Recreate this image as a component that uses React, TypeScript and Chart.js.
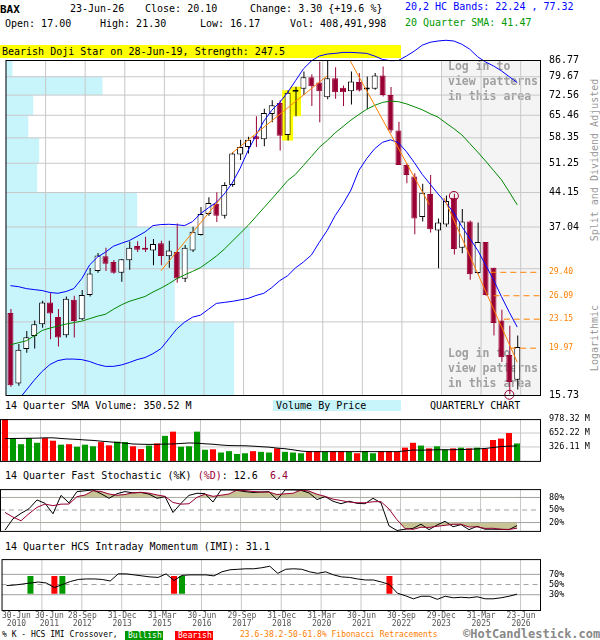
import React, { useEffect, useRef } from "react";
import { Chart, registerables } from "chart.js";

Chart.register(...registerables);

const FONT = "'DejaVu Sans Mono', 'Liberation Mono', monospace";
Chart.defaults.font.family = FONT;

// ---------------- data (quarterly, 30-Jun-2010 .. 23-Jun-2026) ----------------
const opens = [23.90,16.68,19.89,21.26,22.55,25.22,23.40,21.33,25.56,23.13,26.20,29.61,31.89,31.00,29.33,31.25,33.60,33.25,32.87,34.10,31.90,32.60,28.45,32.87,35.55,39.60,41.70,39.20,45.90,53.60,55.70,58.80,57.90,65.85,69.70,59.20,73.80,74.90,79.50,77.40,71.80,79.10,75.30,74.00,77.60,74.70,74.90,80.20,72.60,60.60,50.80,47.90,39.00,43.80,36.40,37.50,43.00,33.30,38.10,29.30,34.30,30.10,23.00,19.30,17.00];
const highs = [24.39,20.39,21.80,23.00,25.43,26.42,24.38,25.99,26.08,26.87,30.07,32.45,33.30,31.30,31.45,34.40,34.45,35.26,34.85,34.55,34.55,37.70,33.80,37.10,41.00,43.10,44.20,46.50,54.30,57.80,58.70,65.10,67.70,70.70,70.70,74.40,75.70,81.80,80.70,86.00,86.50,83.60,76.20,81.80,81.20,79.80,81.20,83.90,75.60,63.30,51.20,48.70,46.20,48.30,38.70,43.50,43.90,40.60,38.30,37.90,34.30,30.10,24.30,22.40,21.30];
const lows = [16.40,16.48,19.50,19.95,22.17,20.90,20.15,21.08,21.08,23.05,25.99,29.33,29.61,29.18,28.03,29.80,32.60,32.60,30.47,30.47,30.10,27.88,27.99,32.60,35.45,39.20,38.00,38.70,45.50,52.10,53.85,55.70,55.90,63.20,54.70,57.60,65.10,72.60,68.60,63.20,71.00,71.20,68.60,69.20,73.90,67.50,74.60,72.00,59.90,50.80,46.30,35.70,38.10,36.00,30.00,37.10,32.20,32.40,28.30,29.20,26.10,21.30,18.60,15.80,16.17];
const closes = [16.54,19.82,21.12,22.55,25.22,23.83,21.08,25.69,22.93,26.20,29.22,32.05,30.72,29.33,31.41,33.30,32.97,32.97,33.98,31.95,32.87,28.49,33.30,36.17,39.60,41.85,39.20,45.90,53.85,55.70,57.80,57.90,66.20,68.90,59.00,73.40,74.00,79.50,75.90,74.00,79.10,73.60,73.60,77.80,74.30,74.90,80.20,72.60,60.60,50.80,48.30,38.70,44.10,36.60,37.90,42.30,33.10,38.10,29.10,34.30,26.20,22.70,19.06,16.80,20.10];

// volume, millions of shares
const volumes = [990,533,391,533,424,533,473,380,391,331,380,342,440,364,451,440,342,277,359,408,587,685,331,342,685,261,272,196,228,163,179,228,212,196,293,212,196,179,228,228,212,228,228,212,179,228,179,228,228,212,310,424,359,293,342,261,293,310,293,310,282,489,522,652,408.49];
const volumeSma14 = [522,525,527,530,532,540,540,525,512,503,490,480,462,447,430,415,396,390,386,388,393,397,408,420,415,400,390,372,359,356,354,345,332,322,300,285,260,230,217,217,217,217,217,217,217,217,217,217,217,217,233,255,250,255,261,261,261,265,272,280,290,312,335,345,350.52];

const hcUpperBand = [27.46,27.33,27.06,26.92,26.79,26.52,26.42,26.65,27.06,28.45,30.53,31.78,32.58,33.58,34.09,34.56,35.31,36.12,37.31,37.50,37.56,37.46,37.31,38.07,39.64,40.85,41.99,43.83,46.32,49.94,54.66,59.03,63.55,67.16,69.91,73.51,78.09,82.93,86.34,88.53,89.43,89.74,90.19,90.19,90.00,89.74,88.53,86.99,86.47,86.55,88.53,90.78,93.56,94.98,95.60,95.94,95.60,94.03,91.70,88.20,85.90,84.19,82.10,79.66,77.32];
const hcLowerBand = [14.66,15.33,16.13,16.96,17.74,18.38,18.75,18.89,18.89,18.84,18.66,18.38,18.20,18.20,18.33,18.56,18.84,19.04,19.42,19.92,20.94,22.02,22.81,23.39,23.63,24.35,25.09,25.22,25.35,25.54,25.73,26.12,26.42,27.19,28.17,28.89,30.07,30.99,32.10,34.26,36.39,39.24,41.68,44.71,49.43,52.52,55.22,57.05,57.76,56.91,54.39,51.46,48.45,46.08,43.83,41.88,39.83,37.13,34.96,32.91,30.53,28.31,25.99,23.98,22.24];
const sma20 = [20.32,20.53,20.74,21.26,21.86,22.13,22.36,22.58,22.75,22.92,23.21,23.51,23.74,24.35,24.90,25.35,25.67,25.99,26.59,27.12,27.74,28.45,29.02,29.54,30.11,30.99,31.93,33.08,34.43,35.84,37.31,39.04,40.85,42.73,44.75,46.92,48.45,50.69,53.03,55.58,57.56,59.84,61.82,63.87,65.73,67.51,68.87,69.91,70.37,70.16,69.39,68.38,67.33,65.99,64.84,62.92,61.14,59.24,56.70,54.27,51.85,49.43,47.13,44.26,41.47];

const stochK = [2,29,42,53,74,66,41,85,67,94,96,98,89,78,89,94,91,92,88,78,82,44,66,85,90,89,69,98,98,97,94,92,93,94,74,98,98,97,91,75,82,71,65,71,66,65,78,67,12,1,4,6,16,3,14,23,10,15,3,11,4,4,3.6,3,12.6];
const stochD = [44,33,24.3,41.3,56.3,64.3,60.3,64,64.3,82,85.7,96,94.3,88.3,85.3,87,91.3,92.3,90.3,86,82.7,68,64,65,80.3,88,82.7,85.3,88.3,97.7,96.3,94.3,93,93,87,88.7,90,97.7,95.3,87.7,82.7,76,72.7,69,67.3,67.3,69.7,70,52.3,26.7,5.7,3.7,8.7,8.3,11,13.3,15.7,16,9.3,9.7,6,6.3,3.9,3.5,6.4];
const imi = [48,49,51,53,55,53,44,50,56,60,61,61,60,57,71,71,69,67,65,64,71,58,68,69,69,69,67,75,79,80,81,81,83,86,72,80,81,80,75,72,75,69,65,64,61,59,59,55,50,33,28,22,27,27,21,27,24,25,24,26,22,22,24,27,31.1];

const imiCrossIdx = [3, 6, 7, 21, 22, 48];
const imiCrossBullish = [true, false, true, false, true, false];
const imiCrossRange = [31.7, 66.7];

// price axis: volume-by-price bin edges (top first)
const priceGrid = [86.77,79.67,72.56,65.46,58.35,51.25,44.15,37.04,29.94,22.83,15.73];
const priceTickText = ["86.77","79.67","72.56","65.46","58.35","51.25","44.15","37.04","","","15.73"];
const vbpVolume = [35,490,140,115,170,160,665,1235,855,1155]; // M shares per bin, top bin first

const fibLevels = [29.40, 26.09, 23.15, 19.97];
const fibStartIdx = [60.6, 61.0, 62.3, 63.1];

const trendStartIdx = [19.0, 27.9, 42.9, 54.75];
const trendStartPrice = [29.62, 53.84, 86.47, 42.96];
const trendEndIdx = [26.6, 40.0, 52.9, 64.0];
const trendEndPrice = [42.96, 80.07, 41.53, 18.60];

const swingIdx = [56, 63];
const swingPrice = [43.4, 15.75];

const patternIdx = [35, 36];
const lockedFromIdx = 54;

const xLabelIdx = [0,4,9,14,19,24,29,34,39,44,49,54,59,64];
const xLabelText = [
  ["30-Jun","2010"],["30-Jun","2011"],["28-Sep","2012"],["31-Dec","2013"],["31-Mar","2015"],
  ["30-Jun","2016"],["29-Sep","2017"],["31-Dec","2018"],["31-Mar","2020"],["30-Jun","2021"],
  ["30-Sep","2022"],["29-Dec","2023"],["31-Mar","2025"],["23-Jun","2026"],
];

const volTicks = [326.11, 652.22, 978.32];
const stochTicks = [20, 50, 80];
const imiTicks = [30, 50, 70];

// ---------------- styling ----------------
const GRID_COLOR = "#c8c8c8";
const CRIMSON = "#990033";
const UP_GREEN = "#009900";
const DOWN_RED = "#ff0000";
const ORANGE = "#ff8000";
const BAND_BLUE = "#0000ff";
const SMA_GREEN = "#008800";
const VBP_CYAN = "#c8f4fc";
const TAN = "rgb(200,196,150)";
const REF = "#a0a0a0";
const CLEAR = "rgba(0,0,0,0)";
const X_MIN = -0.625;
const X_MAX = 66.875;
const GRID_SHIFT = 0.4375; // grid line sits just right of the dated candle

const gridPos = xLabelIdx.slice(1).map((i) => i + GRID_SHIFT);
const xLabelPos = xLabelIdx.map((i, k) => i + (k === 0 ? 1.25 : k === 1 ? 1.375 : 0.5));
const pts = (arr: number[]) => arr.map((v, i) => ({ x: i, y: v }));
const isBull = (i: number) => closes[i] >= opens[i];

// grid lines as two-point line datasets through the chart's own scales
function gridDatasets(yMin: number, yMax: number, yVals: number[]): any[] {
  const common = { type: "line", xAxisID: "x", yAxisID: "y", borderColor: GRID_COLOR, borderWidth: 1, pointRadius: 0, fill: false, order: 20 };
  const v = gridPos.map((g) => ({ ...common, data: [{ x: g, y: yMin }, { x: g, y: yMax }] }));
  const h = yVals.map((y) => ({ ...common, data: [{ x: X_MIN, y }, { x: X_MAX, y }] }));
  return [...v, ...h];
}
function refDatasets(levels: number[]): any[] {
  return levels.map((y, k) => ({
    type: "line", xAxisID: "x", yAxisID: "y", borderColor: REF, borderWidth: 1, pointRadius: 0, fill: false,
    borderDash: k === 1 ? [5, 4] : [], order: 19, data: [{ x: X_MIN, y }, { x: X_MAX, y }],
  }));
}

function hiddenXAxis(): any {
  return {
    type: "linear", min: X_MIN, max: X_MAX, offset: false, bounds: "data",
    grid: { display: false, drawTicks: false },
    border: { display: false },
    ticks: { display: false },
    afterFit: (s: any) => { s.height = 0; },
  };
}

function rightAxis(vals: number[], label: (v: number) => string, size: number, extra: any = {}): any {
  return {
    position: "right", bounds: "data",
    border: { display: false },
    grid: { display: false, drawTicks: false },
    ticks: { autoSkip: false, padding: 9, color: "#000", font: { family: FONT, size }, callback: (v: any) => label(v) },
    afterBuildTicks: (s: any) => { s.ticks = vals.map((v) => ({ value: v })); },
    afterFit: (s: any) => { s.width = 60; },
    ...extra,
  };
}

const framePlugin = {
  id: "frame",
  afterDraw(chart: any) {
    const { ctx, chartArea: a } = chart;
    ctx.save();
    ctx.strokeStyle = "#000";
    ctx.lineWidth = 1;
    ctx.strokeRect(a.left + 0.5, a.top + 0.5, a.right - a.left, a.bottom - a.top);
    ctx.restore();
  },
};

const mainDecor = {
  id: "mainDecor",
  beforeDraw(chart: any) {
    const { ctx, chartArea: a, scales } = chart;
    const { x, y, xv } = scales;
    ctx.save();
    ctx.fillStyle = VBP_CYAN;
    vbpVolume.forEach((v, k) => {
      const top = y.getPixelForValue(priceGrid[k]);
      const bottom = y.getPixelForValue(priceGrid[k + 1]);
      ctx.fillRect(a.left, top, xv.getPixelForValue(v) - a.left, bottom - top);
    });
    const gx = Math.floor(x.getPixelForValue(lockedFromIdx + GRID_SHIFT));
    ctx.fillStyle = "#f4f4f4";
    ctx.fillRect(gx, a.top, a.right - gx, a.bottom - a.top);
    ctx.strokeStyle = "#999999";
    ctx.lineWidth = 1;
    ctx.beginPath();
    ctx.moveTo(gx + 0.5, a.top);
    ctx.lineTo(gx + 0.5, a.bottom);
    ctx.stroke();
    // watermark
    ctx.fillStyle = "#a0a0a0";
    ctx.font = `bold 11.5px ${FONT}`;
    ctx.textBaseline = "middle";
    const lines = ["Log in to", "view patterns", "in this area"];
    lines.forEach((s, k) => {
      ctx.fillText(s, gx + 7, a.top + 7.5 + 15 * k);
      ctx.fillText(s, gx + 7, a.bottom - 40.5 + 15 * k);
    });
    ctx.restore();
  },
};

function mainConfig(): any {
  const ids = opens.map((_, i) => i);
  const bull = ids.filter(isBull);
  const bear = ids.filter((i) => !isBull(i));
  const bar = { type: "bar", grouped: false, inflateAmount: 0, yAxisID: "y" };
  const line = { type: "line", pointRadius: 0, borderWidth: 1, fill: false, tension: 0, xAxisID: "x", yAxisID: "y" };
  const nGrid = priceGrid.length;
  const datasets: any[] = [
    ...gridDatasets(priceGrid[nGrid - 1], priceGrid[0], priceGrid.slice(1, nGrid - 1)),
    // pattern highlight behind the Bearish Doji Star candles
    { ...bar, xAxisID: "x", data: patternIdx.map((i) => ({ x: i, y: [lows[i], highs[i]] })), backgroundColor: "#ffff00", barThickness: 11, minBarLength: 2, order: 15 },
    { ...bar, xAxisID: "xw", data: bull.map((i) => ({ x: i, y: [lows[i], highs[i]] })), backgroundColor: "#000", barThickness: 1, order: 9 },
    { ...bar, xAxisID: "xw", data: bear.map((i) => ({ x: i, y: [lows[i], highs[i]] })), backgroundColor: CRIMSON, barThickness: 1, order: 9 },
    { ...bar, xAxisID: "x", data: bull.map((i) => ({ x: i, y: [opens[i], closes[i]] })), backgroundColor: "#fff", borderColor: "#000", borderWidth: 1, borderSkipped: false, barThickness: 6, minBarLength: 2, order: 8 },
    { ...bar, xAxisID: "x", data: bear.map((i) => ({ x: i, y: [opens[i], closes[i]] })), backgroundColor: CRIMSON, borderColor: CRIMSON, borderWidth: 1, borderSkipped: false, barThickness: 6, minBarLength: 2, order: 8 },
    { ...line, data: pts(sma20), borderColor: SMA_GREEN, order: 4 },
    { ...line, data: pts(hcUpperBand), borderColor: BAND_BLUE, clip: false, order: 3 },
    { ...line, data: pts(hcLowerBand), borderColor: BAND_BLUE, order: 3 },
  ];
  trendStartIdx.forEach((s, k) => {
    datasets.push({ ...line, data: [{ x: s, y: trendStartPrice[k] }, { x: trendEndIdx[k], y: trendEndPrice[k] }], borderColor: ORANGE, order: 2 });
  });
  fibLevels.forEach((v, k) => {
    datasets.push({ ...line, data: [{ x: fibStartIdx[k], y: v }, { x: X_MAX, y: v }], borderColor: ORANGE, borderDash: [6, 4], order: 2 });
  });
  datasets.push({
    type: "line", xAxisID: "x", yAxisID: "y", showLine: false,
    data: swingIdx.map((i, k) => ({ x: i, y: swingPrice[k] })),
    pointRadius: 4.5, pointStyle: "circle", pointBorderColor: CRIMSON, pointBackgroundColor: CLEAR, pointBorderWidth: 1,
    clip: false, order: 1,
  });
  return {
    type: "line",
    data: { datasets },
    options: {
      animation: false, responsive: false, maintainAspectRatio: false, events: [],
      layout: { padding: { top: 60, bottom: 10, left: 0, right: 0 } },
      plugins: { legend: { display: false }, tooltip: { enabled: false } },
      scales: {
        x: hiddenXAxis(),
        xw: { type: "linear", display: false, min: X_MIN - 0.0625, max: X_MAX - 0.0625, offset: false, bounds: "data" },
        xv: { type: "linear", display: false, min: 0, max: 2700, offset: false, bounds: "data" },
        y: {
          type: "logarithmic", position: "right", min: priceGrid[nGrid - 1], max: priceGrid[0], bounds: "data",
          border: { display: false },
          grid: { display: false, drawTicks: false },
          ticks: {
            autoSkip: false, padding: 9,
            callback: (v: any, i: number) => (i < nGrid ? priceTickText[i] : fibLevels[i - nGrid].toFixed(2)),
            color: (c: any) => (c.index < nGrid ? "#000" : ORANGE),
            font: (c: any) => ({ family: FONT, size: c.index < nGrid ? 10 : 8 }),
          },
          afterBuildTicks: (s: any) => { s.ticks = [...priceGrid, ...fibLevels].map((v) => ({ value: v })); },
          afterFit: (s: any) => { s.width = 60; },
        },
      },
    },
    plugins: [mainDecor, framePlugin],
  };
}

function volumeConfig(): any {
  const top = volTicks[volTicks.length - 1];
  return {
    type: "line",
    data: {
      datasets: [
        ...gridDatasets(0, top, volTicks.slice(0, 2)),
        { type: "bar", xAxisID: "x", yAxisID: "y", data: pts(volumes), backgroundColor: volumes.map((_, i) => (isBull(i) ? UP_GREEN : DOWN_RED)), barThickness: 6, grouped: false, inflateAmount: 0, order: 2 },
        { type: "line", xAxisID: "x", yAxisID: "y", data: pts(volumeSma14), borderColor: "#000", borderWidth: 1, pointRadius: 0, order: 1 },
      ],
    },
    options: {
      animation: false, responsive: false, maintainAspectRatio: false, events: [],
      layout: { padding: { top: 5, bottom: 4, left: 0, right: 0 } },
      plugins: { legend: { display: false }, tooltip: { enabled: false } },
      scales: {
        x: hiddenXAxis(),
        y: rightAxis(volTicks, (v) => `${v.toFixed(2)} M`, 8.5, { type: "linear", min: 0, max: top }),
      },
    },
    plugins: [framePlugin],
  };
}

function stochConfig(): any {
  const base = { type: "line", xAxisID: "x", yAxisID: "y", pointRadius: 0, tension: 0 };
  return {
    type: "line",
    data: {
      datasets: [
        ...gridDatasets(0, 100, []),
        ...refDatasets([stochTicks[2], stochTicks[1], stochTicks[0]]),
        { ...base, data: pts(stochD), borderWidth: 0, borderColor: CLEAR, fill: { target: { value: stochTicks[2] }, above: TAN, below: CLEAR }, order: 4 },
        { ...base, data: pts(stochD), borderWidth: 0, borderColor: CLEAR, fill: { target: { value: stochTicks[0] }, above: CLEAR, below: TAN }, order: 4 },
        { ...base, data: pts(stochK), borderWidth: 1, borderColor: "#000", fill: false, order: 2 },
        { ...base, data: pts(stochD), borderWidth: 1, borderColor: CRIMSON, fill: false, order: 1 },
      ],
    },
    options: {
      animation: false, responsive: false, maintainAspectRatio: false, events: [],
      layout: { padding: { top: 5, bottom: 5, left: 0, right: 0 } },
      plugins: { legend: { display: false }, tooltip: { enabled: false } },
      scales: {
        x: hiddenXAxis(),
        y: rightAxis(stochTicks, (v) => `${v}%`, 8.5, { type: "linear", min: 0, max: 100 }),
      },
    },
    plugins: [framePlugin],
  };
}

function imiConfig(): any {
  return {
    type: "line",
    data: {
      datasets: [
        ...gridDatasets(0, 100, []),
        ...refDatasets([imiTicks[2], imiTicks[1], imiTicks[0]]),
        {
          type: "bar", xAxisID: "x", yAxisID: "y", grouped: false, inflateAmount: 0, barThickness: 6,
          data: imiCrossIdx.map((i) => ({ x: i, y: imiCrossRange })),
          backgroundColor: imiCrossBullish.map((b) => (b ? UP_GREEN : DOWN_RED)), order: 2,
        },
        { type: "line", xAxisID: "x", yAxisID: "y", data: pts(imi), borderColor: "#000", borderWidth: 1, pointRadius: 0, tension: 0, order: 1 },
      ],
    },
    options: {
      animation: false, responsive: false, maintainAspectRatio: false, events: [],
      layout: { padding: { top: 5, bottom: 0, left: 0, right: 0 } },
      plugins: { legend: { display: false }, tooltip: { enabled: false } },
      scales: {
        x: hiddenXAxis(),
        xl: {
          type: "linear", position: "bottom", min: X_MIN, max: X_MAX, offset: false, bounds: "data",
          grid: { display: false, drawTicks: false }, border: { display: false },
          ticks: {
            autoSkip: false, maxRotation: 0, minRotation: 0, padding: 2, color: "#555",
            font: { family: FONT, size: 8, lineHeight: 1 },
            callback: (v: any, i: number) => xLabelText[i],
          },
          afterBuildTicks: (s: any) => { s.ticks = xLabelPos.map((v) => ({ value: v })); },
          afterFit: (s: any) => { s.height = 30; },
        },
        y: rightAxis(imiTicks, (v) => `${v}%`, 8.5, { type: "linear", min: 0, max: 100 }),
      },
    },
    plugins: [framePlugin],
  };
}

function ChartCanvas({ top, height, build }: { top: number; height: number; build: () => any }) {
  const ref = useRef<HTMLCanvasElement>(null);
  useEffect(() => {
    const chart = new Chart(ref.current as HTMLCanvasElement, build());
    return () => chart.destroy();
  }, []);
  return (
    <canvas
      ref={ref}
      width={600}
      height={height}
      style={{ position: "absolute", left: 0, top, width: 600, height, display: "block" }}
    />
  );
}

function Txt({ x, cy, size = 10, color = "#000", bold = false, children }: any) {
  return (
    <div
      style={{
        position: "absolute", left: x, top: cy - size * 0.58, fontFamily: FONT, fontSize: size,
        lineHeight: `${size * 1.2}px`, color, fontWeight: bold ? "bold" : "normal", whiteSpace: "pre",
      }}
    >
      {children}
    </div>
  );
}

function Box({ x, y, w, h, bg, color = "#000", size = 10, children, pad = 2 }: any) {
  return (
    <div
      style={{
        position: "absolute", left: x, top: y, width: w, height: h, background: bg, color,
        fontFamily: FONT, fontSize: size, lineHeight: `${h}px`, whiteSpace: "pre", paddingLeft: pad, boxSizing: "border-box",
      }}
    >
      {children}
    </div>
  );
}

function VText({ cx, cy, w, children }: any) {
  return (
    <div
      style={{
        position: "absolute", left: cx - w / 2, top: cy - 6, width: w, height: 12, textAlign: "center",
        fontFamily: FONT, fontSize: 10, lineHeight: "12px", color: "#999999", whiteSpace: "pre",
        transform: "rotate(-90deg)", transformOrigin: "50% 50%",
      }}
    >
      {children}
    </div>
  );
}

export default function App() {
  return (
    <div style={{ position: "absolute", left: 0, top: 0, width: 600, height: 640, background: "#fff", overflow: "hidden" }}>
      <Txt x={0} cy={9} size={11} bold>BAX</Txt>
      <Txt x={70} cy={9}>23-Jun-26</Txt>
      <Txt x={145} cy={9}>Close: 20.10</Txt>
      <Txt x={250} cy={9}>{"Change: 3.30 {+19.6 %}"}</Txt>
      <Txt x={405} cy={7} color="#0000ff">20,2 HC Bands: 22.24 , 77.32</Txt>
      <Txt x={5} cy={24}>Open: 17.00</Txt>
      <Txt x={100} cy={24}>High: 21.30</Txt>
      <Txt x={200} cy={24}>Low: 16.17</Txt>
      <Txt x={290} cy={24}>Vol: 408,491,998</Txt>
      <Txt x={405} cy={22.5} color="#009900">20 Quarter SMA: 41.47</Txt>

      <Box x={0} y={44.5} w={401} h={13.5} bg="#ffff00">Bearish Doji Star on 28-Jun-19, Strength: 247.5</Box>

      <Txt x={5} cy={405.5}>14 Quarter SMA Volume: 350.52 M</Txt>
      <Box x={273} y={399.5} w={128} h={11} bg={VBP_CYAN} pad={3}>Volume By Price</Box>
      <Txt x={430} cy={405.5}>QUARTERLY CHART</Txt>

      <Txt x={5} cy={476}>
        {"14 Quarter Fast Stochastic (%K) "}
        <span style={{ color: CRIMSON }}>(%D)</span>
        {": 12.6  "}
        <span style={{ color: CRIMSON }}>6.4</span>
      </Txt>
      <Txt x={5} cy={546.5}>14 Quarter HCS Intraday Momentum (IMI): 31.1</Txt>

      <VText cx={595} cy={160} w={170}>Split and Dividend Adjusted</VText>
      <VText cx={595} cy={338} w={80}>Logarithmic</VText>

      <Txt x={2} cy={635} size={8}>% K - HCS IMI Crossover,</Txt>
      <Box x={125} y={630.5} w={38} h={9} bg={UP_GREEN} color="#fff" size={8} pad={3}>Bullish</Box>
      <Box x={175} y={630.5} w={38} h={9} bg={DOWN_RED} color="#fff" size={8} pad={3}>Bearish</Box>
      <Txt x={240} cy={635} size={8} color={ORANGE}>23.6-38.2-50-61.8% Fibonacci Retracements</Txt>
      <Txt x={463} cy={634} size={12} bold color="#888888">©HotCandlestick.com</Txt>

      <ChartCanvas top={0} height={410} build={mainConfig} />
      <ChartCanvas top={405} height={70} build={volumeConfig} />
      <ChartCanvas top={475} height={70} build={stochConfig} />
      <ChartCanvas top={545} height={95} build={imiConfig} />
    </div>
  );
}
